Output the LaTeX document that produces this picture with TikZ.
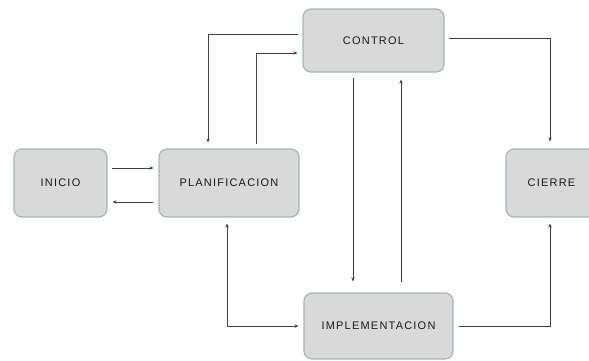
\documentclass[tikz,border=0pt]{standalone}
\usepackage{fontspec}
\setmainfont{Liberation Sans}[LetterSpace=11]
\usetikzlibrary{arrows.meta}
\definecolor{boxfill}{HTML}{D9D9D9}
\definecolor{boxline}{HTML}{A3B7B9}
\definecolor{lineclr}{HTML}{404040}
\begin{document}
\begin{tikzpicture}[x=1pt,y=-1pt,
  stage/.style={draw=boxline, line width=1.2pt, fill=boxfill, rounded corners=8pt,
    inner sep=0pt, font=\fontsize{11}{13}\selectfont, text=black!90},
  conn/.style={draw=lineclr, line width=1pt, -{Stealth[length=4pt,width=3.5pt]}},
  conn2/.style={draw=lineclr, line width=1pt, {Stealth[length=4pt,width=3.5pt]}-{Stealth[length=4pt,width=3.5pt]}}]
\useasboundingbox (0,0) rectangle (589,360);
\node[stage, minimum width=93pt, minimum height=68pt] (inicio) at (60.5,183) {INICIO};
\node[stage, minimum width=140pt, minimum height=68pt] (planif) at (229,183) {PLANIFICACION};
\node[stage, minimum width=141pt, minimum height=63pt] (control) at (373.5,40.5) {CONTROL};
\node[stage, minimum width=91pt, minimum height=68pt] (cierre) at (551.5,183) {CIERRE};
\node[stage, minimum width=149pt, minimum height=66pt] (impl) at (378.5,326) {IMPLEMENTACION};
% INICIO <-> PLANIFICACION
\draw[conn] ([xshift=4pt,yshift=15pt]inicio.east) -- ([xshift=-5pt,yshift=15pt]planif.west);
\draw[conn] ([xshift=-5pt,yshift=-19pt]planif.west) -- ([xshift=5pt,yshift=-19pt]inicio.east);
% CONTROL -> PLANIFICACION
\draw[conn] ([xshift=-4pt,yshift=6.5pt]control.west) -| ([xshift=-21pt,yshift=6pt]planif.north);
% PLANIFICACION -> CONTROL
\draw[conn] ([xshift=27pt,yshift=4pt]planif.north) |- ([xshift=-5pt,yshift=-12.5pt]control.west);
% CONTROL -> CIERRE
\draw[conn] ([xshift=4pt,yshift=2.5pt]control.east) -| ([xshift=-1.5pt,yshift=7pt]cierre.north);
% CONTROL -> IMPLEMENTACION
\draw[conn] ([xshift=-20.5pt,yshift=-5pt]control.south) -- ([xshift=-25.5pt,yshift=11pt]impl.north);
% IMPLEMENTACION -> CONTROL
\draw[conn] ([xshift=22.5pt,yshift=10pt]impl.north) -- ([xshift=27.5pt,yshift=-7pt]control.south);
% PLANIFICACION <-> IMPLEMENTACION
\draw[conn2] ([xshift=-2pt,yshift=-6pt]planif.south) |- ([xshift=-5pt]impl.west);
% IMPLEMENTACION -> CIERRE
\draw[conn] ([xshift=5pt]impl.east) -| ([xshift=-1.5pt,yshift=-6pt]cierre.south);
\end{tikzpicture}
\end{document}
